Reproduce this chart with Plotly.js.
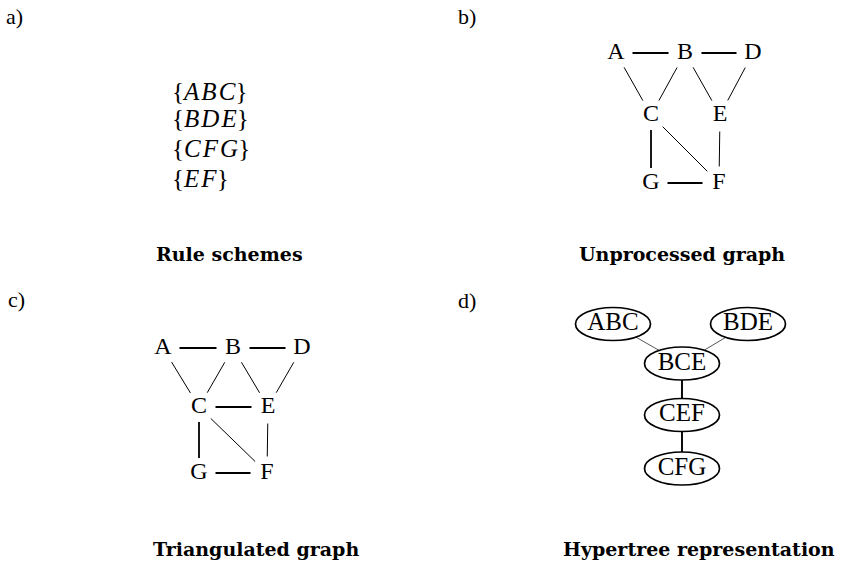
<!DOCTYPE html>
<html>
<head>
<meta charset="utf-8">
<script src="https://cdn.plot.ly/plotly-3.0.1.min.js"></script>
<style>html,body{margin:0;padding:0;background:#fff;}#plot{width:842px;height:562px;}</style>
</head>
<body>
<div id="plot"></div>
<script>
// ---- Data ----
// a) rule schemes
const ruleSchemes = ['ABC', 'BDE', 'CFG', 'EF'];
const ruleY = [91, 118, 148, 178];

// b) unprocessed graph
const graphBNames = ['A', 'B', 'D', 'C', 'E', 'G', 'F'];
const graphBX = [616, 685, 753, 651, 720, 651, 719];
const graphBY = [53, 53, 53, 115, 115, 183, 183];
const graphBEdges = [['A','B'],['B','D'],['A','C'],['B','C'],['B','E'],['D','E'],['C','G'],['E','F'],['G','F'],['C','F']];

// c) triangulated graph
const graphCNames = ['A', 'B', 'D', 'C', 'E', 'G', 'F'];
const graphCX = [163, 233, 302, 199, 268, 199, 267];
const graphCY = [348, 348, 348, 407, 407, 473, 473];
const graphCEdges = [['A','B'],['B','D'],['A','C'],['B','C'],['B','E'],['D','E'],['C','E'],['C','G'],['E','F'],['G','F'],['C','F']];

// d) hypertree
const treeNames = ['ABC', 'BDE', 'BCE', 'CEF', 'CFG'];
const treeX = [613, 748, 682, 682, 682];
const treeY = [324, 324, 363.5, 415, 468.5];
const treeEdges = [['ABC','BCE'],['BDE','BCE'],['BCE','CEF'],['CEF','CFG']];

// panel labels & captions
const panelLabels = ['a)', 'b)', 'c)', 'd)'];
const panelLabelX = [14, 467, 16, 467];
const panelLabelY = [16, 16, 299, 300];
const captions = ['Rule schemes', 'Unprocessed graph', 'Triangulated graph', 'Hypertree representation'];
const captionX = [229, 682, 256, 699];
const captionY = [254, 254, 549, 549];

// ---- Build ----
const serif = 'Liberation Serif, Times New Roman, serif';
const traces = [];
const shapes = [];
const annotations = [];

function graphTraces(names, xs, ys, edges, r) {
  edges.forEach(([a, b]) => {
    const i = names.indexOf(a), j = names.indexOf(b);
    const dx = xs[j] - xs[i], dy = ys[j] - ys[i];
    const L = Math.hypot(dx, dy), ux = dx / L, uy = dy / L;
    const axisAligned = Math.abs(dx) < 1 || Math.abs(dy) < 1;
    const ri = axisAligned && Math.abs(dx) < 1 ? r - 1.5 : r;
    traces.push({
      x: [xs[i] + ux * ri, xs[j] - ux * ri],
      y: [ys[i] + uy * ri, ys[j] - uy * ri],
      mode: 'lines', hoverinfo: 'skip',
      line: {color: '#000', width: axisAligned ? 1.8 : 1.0}
    });
  });
  traces.push({
    x: xs, y: ys, text: names, mode: 'text', hoverinfo: 'skip',
    textposition: 'middle center',
    textfont: {family: serif, size: 24, color: '#000'}
  });
}

graphTraces(graphBNames, graphBX, graphBY, graphBEdges, 16.5);
graphTraces(graphCNames, graphCX, graphCY, graphCEdges, 16.5);

// hypertree
const rx = 37.5, ry = 16.5;
function ellipseDist(ux, uy) { return 1 / Math.sqrt((ux / rx) ** 2 + (uy / ry) ** 2); }
treeEdges.forEach(([a, b]) => {
  const i = treeNames.indexOf(a), j = treeNames.indexOf(b);
  const dx = treeX[j] - treeX[i], dy = treeY[j] - treeY[i];
  const L = Math.hypot(dx, dy), ux = dx / L, uy = dy / L;
  const d = ellipseDist(ux, uy);
  const vertical = Math.abs(dx) < 1;
  traces.push({
    x: [treeX[i] + ux * d, treeX[j] - ux * d],
    y: [treeY[i] + uy * d, treeY[j] - uy * d],
    mode: 'lines', hoverinfo: 'skip',
    line: {color: vertical ? '#000' : '#555', width: vertical ? 1.9 : 1.0}
  });
});
treeNames.forEach((n, k) => {
  shapes.push({type: 'circle', xref: 'x', yref: 'y',
    x0: treeX[k] - rx, x1: treeX[k] + rx, y0: treeY[k] - ry, y1: treeY[k] + ry,
    line: {color: '#000', width: 1.7}, fillcolor: 'rgba(0,0,0,0)'});
});
traces.push({
  x: treeX, y: treeY, text: treeNames, mode: 'text', hoverinfo: 'skip',
  textposition: 'middle center',
  textfont: {family: serif, size: 25, color: '#000'}
});

// rule schemes
ruleSchemes.forEach((s, k) => {
  annotations.push({x: 170, y: ruleY[k], xref: 'x', yref: 'y', xanchor: 'left', yanchor: 'middle',
    text: '{<i>' + s.split('').join('\u200A') + '</i>}', showarrow: false,
    font: {family: serif, size: 25, color: '#000'}});
});

panelLabels.forEach((t, k) => {
  annotations.push({x: panelLabelX[k], y: panelLabelY[k], xref: 'x', yref: 'y', xanchor: 'center', yanchor: 'middle',
    text: t, showarrow: false, font: {family: serif, size: 22, color: '#000'}});
});
captions.forEach((t, k) => {
  annotations.push({x: captionX[k], y: captionY[k], xref: 'x', yref: 'y', xanchor: 'center', yanchor: 'middle',
    text: '<b>' + t + '</b>', showarrow: false,
    font: {family: 'DejaVu Serif, serif', size: 19, color: '#000'}});
});

const hidden = {visible: false, showgrid: false, zeroline: false, fixedrange: true};
const layout = {
  width: 842, height: 562,
  margin: {l: 0, r: 0, t: 0, b: 0},
  paper_bgcolor: '#fff', plot_bgcolor: '#fff',
  showlegend: false,
  xaxis: Object.assign({range: [0, 842]}, hidden),
  yaxis: Object.assign({range: [562, 0]}, hidden),
  shapes: shapes, annotations: annotations
};
Plotly.newPlot('plot', traces, layout, {staticPlot: true, displayModeBar: false});
</script>
</body>
</html>
